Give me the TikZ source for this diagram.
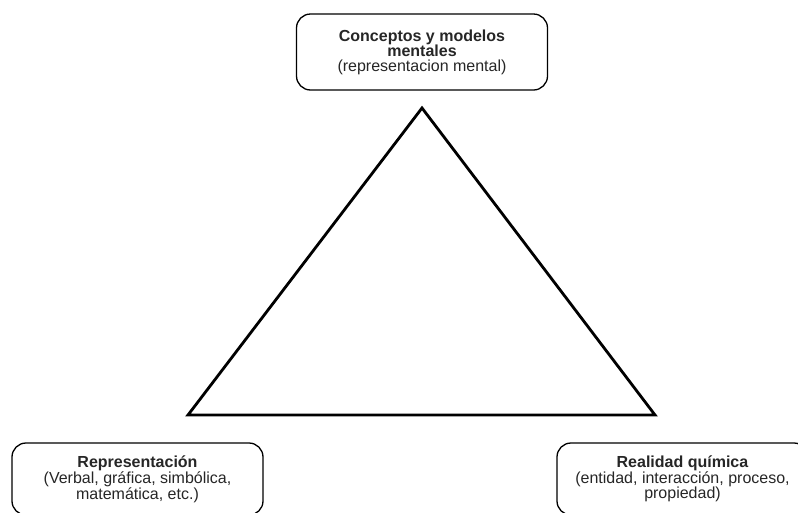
\documentclass[tikz,border=0pt]{standalone}
\usepackage{fontspec}
\setmainfont{Liberation Sans}
\begin{document}
\begin{tikzpicture}[x=1pt,y=-1pt,
  cornerbox/.style={draw=black, line width=1.3pt, rounded corners=14pt,
    minimum width=251pt, inner sep=0pt, align=center, text=black!85,
    font=\fontsize{16}{15}\selectfont},
  edge/.style={line width=2.8pt, line join=miter}]
\useasboundingbox (0,0) rectangle (798,512);
\clip (0,0) rectangle (798,512);

% the three corner boxes
\node[cornerbox, minimum height=76pt] (concepts) at (422,52)
  {\textbf{Conceptos y modelos}\\\textbf{mentales}\\(representacion mental)};
\node[cornerbox, minimum height=72pt] (repr) at (137.5,479)
  {\textbf{Representación}\\(Verbal, gráfica, simbólica,\\matemática, etc.)};
\node[cornerbox, minimum height=72pt] (reality) at (682.5,479)
  {\textbf{Realidad química}\\(entidad, interacción, proceso,\\propiedad)};

% the triangle between them
\coordinate (apex) at (422,108);
\coordinate (left) at (188,415);
\coordinate (right) at (655,415);
\draw[edge] (apex) -- (right) -- (left) -- cycle;
\end{tikzpicture}
\end{document}
